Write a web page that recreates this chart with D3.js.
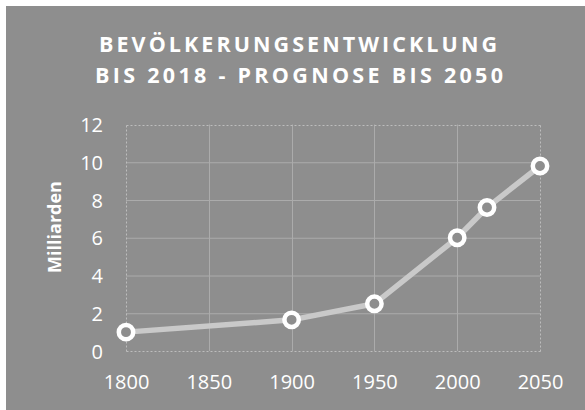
<!DOCTYPE html>
<html><head><meta charset="utf-8">
<script src="https://cdn.jsdelivr.net/npm/d3@7"></script>
<style>body{margin:0;background:#fff}svg{display:block}</style>
</head><body>
<script>
const years = [1800, 1900, 1950, 2000, 2018, 2050];
const population = [1.0, 1.65, 2.5, 6.0, 7.6, 9.8];
const xTicks = [1800, 1850, 1900, 1950, 2000, 2050];
const yTicks = [0, 2, 4, 6, 8, 10, 12];
const titleLines = ["BEVÖLKERUNGSENTWICKLUNG", "BIS 2018 - PROGNOSE BIS 2050"];
const yTitle = "Milliarden";

const W = 585, H = 410;
const bg = "#8e8e8e";
const svg = d3.select("body").append("svg").attr("width", W).attr("height", H);
svg.append("rect").attr("x", 6).attr("y", 6).attr("width", W - 6).attr("height", H - 6).attr("fill", bg);

const x = d3.scaleLinear().domain([1800, 2050]).range([126, 540]);
const y = d3.scaleLinear().domain([0, 12]).range([351, 124.5]);

// title
const tl = [{t: titleLines[0], yb: 52, x0: 99, x1: 497}, {t: titleLines[1], yb: 83, x0: 95, x1: 503}];
svg.selectAll("text.title").data(tl).join("text")
  .attr("class", "title")
  .attr("x", d => d.x0).attr("y", d => d.yb)
  .attr("textLength", d => d.x1 - d.x0).attr("lengthAdjust", "spacing")
  .attr("font-family", "Open Sans").attr("font-weight", "bold").attr("font-size", 21.5)
  .attr("fill", "#ffffff").text(d => d.t);

// grid
const g = svg.append("g");
const solid = "#ababab", dash = "#bdbdbd";
g.selectAll("line.h").data(yTicks.filter(v => v > 0 && v < 12)).join("line")
  .attr("x1", x(1800)).attr("x2", x(2050)).attr("y1", d => y(d) + 0.5).attr("y2", d => y(d) + 0.5)
  .attr("stroke", solid).attr("stroke-width", 1);
g.selectAll("line.v").data(xTicks.filter(v => v > 1800 && v < 2050)).join("line")
  .attr("x1", d => Math.round(x(d)) + 0.5).attr("x2", d => Math.round(x(d)) + 0.5)
  .attr("y1", y(12)).attr("y2", y(0))
  .attr("stroke", solid).attr("stroke-width", 1);
// dashed border
const border = [
  [x(1800), y(12), x(2050), y(12)],
  [x(1800), y(0), x(2050), y(0)],
  [x(1800), y(12), x(1800), y(0)],
  [x(2050), y(12), x(2050), y(0)]
];
g.selectAll("line.b").data(border).join("line")
  .attr("x1", d => Math.round(d[0]) + 0.5).attr("y1", d => Math.round(d[1]) + 0.5)
  .attr("x2", d => Math.round(d[2]) + 0.5).attr("y2", d => Math.round(d[3]) + 0.5)
  .attr("stroke", dash).attr("stroke-width", 1).attr("stroke-dasharray", "2,2");

// axes labels
const xAxis = d3.axisBottom(x).tickValues(xTicks).tickFormat(d3.format("d")).tickSize(0).tickPadding(0);
const xa = svg.append("g").attr("transform", `translate(0,389)`).call(xAxis);
xa.select(".domain").remove();
xa.selectAll("text").attr("dy", 0).attr("y", 0)
  .attr("font-family", "Open Sans").attr("font-size", 20).attr("fill", "#fff");

const yAxis = d3.axisLeft(y).tickValues(yTicks).tickSize(0).tickPadding(0);
const ya = svg.append("g").attr("transform", `translate(103,0)`).call(yAxis);
ya.select(".domain").remove();
ya.selectAll("text").attr("x", 0).attr("dy", "0.36em")
  .attr("font-family", "Open Sans").attr("font-size", 20).attr("fill", "#fff");

svg.append("text").attr("transform", "translate(61,227) rotate(-90)")
  .attr("text-anchor", "middle").attr("font-family", "Open Sans").attr("font-weight", "bold")
  .attr("font-size", 18).attr("fill", "#fff").text(yTitle);

// line
const data = years.map((yr, i) => ({yr, v: population[i]}));
svg.append("path").datum(data)
  .attr("d", d3.line().x(d => x(d.yr)).y(d => y(d.v)))
  .attr("fill", "none").attr("stroke", "#c9c9c9").attr("stroke-width", 5.5).attr("stroke-linejoin", "round");
svg.selectAll("circle.m").data(data).join("circle")
  .attr("cx", d => x(d.yr)).attr("cy", d => y(d.v)).attr("r", 7.2)
  .attr("fill", bg).attr("stroke", "#fff").attr("stroke-width", 4.5);
</script>
</body></html>
